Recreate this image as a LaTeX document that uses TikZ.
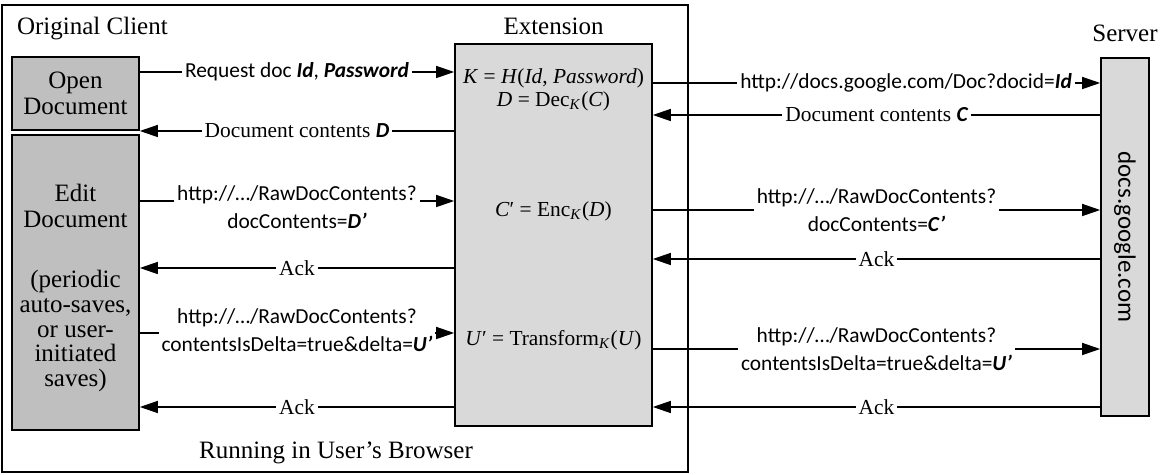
\documentclass[tikz,border=0pt]{standalone}
\usepackage{fontspec}
\setmainfont{Liberation Serif}
\setsansfont{Carlito}
\usetikzlibrary{arrows.meta,positioning}
\definecolor{boxDark}{RGB}{191,191,191}
\definecolor{boxLight}{RGB}{217,217,217}
\newcommand{\BoldVar}[1]{{\sffamily\bfseries\itshape #1}}

\begin{document}
\begin{tikzpicture}[x=0.5pt,y=-0.5pt,
    blk/.style={draw,line width=0.8pt,inner sep=0pt},
    msg/.style={line width=0.7pt,-{Triangle[length=9pt,width=6pt]}},
    lab/.style={fill=white,inner xsep=1.5pt,inner ysep=0.5pt,align=center},
    rm/.style={font=\fontsize{10.7}{14}\selectfont},
    sf/.style={font=\sffamily\fontsize{10.7}{14}\selectfont},
    big/.style={font=\fontsize{12.5}{13}\selectfont},
    eq/.style={font=\fontsize{10.7}{11.5}\selectfont,align=center}]
  \useasboundingbox (0,0) rectangle (1164,475);
  % browser frame
  \draw[line width=0.8pt] (2,5) rectangle (688,472);
  \node[big,anchor=base west] (client) at (10,35) {Original Client};
  \node[big,anchor=base] (browser) at (336,459) {Running in User’s Browser};

  % client side
  \node[blk,fill=boxDark,minimum width=63.5pt,minimum height=36.5pt,big,align=center] (open) at (75.5,93.5) {Open\\Document};
  \node[blk,fill=boxDark,minimum width=63.5pt,minimum height=147.5pt] (edit) at (75.5,282.5) {};
  \node[big,align=center] (edittitle) at (75.5,206) {Edit\\Document};
  \node[align=center,font=\fontsize{12.5}{12.3}\selectfont] (editnote) at (75.5,331)
    {(periodic\\auto-saves,\\or user-\\initiated\\saves)};

  % extension
  \node[blk,fill=boxLight,minimum width=98.5pt,minimum height=191pt] (ext) at (553.5,235) {};
  \node[big,anchor=base] (exttitle) at ([yshift=4.5pt]ext.north) {Extension};
  \node[eq] (keys) at (553.5,90)
    {\textit{K} = \textit{H}(\textit{Id}, \textit{Password})\\
     \textit{D} = Dec\textsubscript{\textit{K}}(\textit{C})};
  \node[eq] (enc) at (553.5,211) {\textit{C}′ = Enc\textsubscript{\textit{K}}(\textit{D})};
  \node[eq] (trans) at (553.5,340) {\textit{U}′ = Transform\textsubscript{\textit{K}}(\textit{U})};

  % server
  \node[blk,fill=boxLight,minimum width=24pt,minimum height=179pt] (server) at (1125,237) {};
  \node[big,anchor=base] (servtitle) at ([yshift=8pt]server.north) {Server};
  \node[rotate=-90,font=\sffamily\fontsize{12.5}{13}\selectfont] (host) at (server.center) {docs.google.com};

  % opening
  \draw[msg] (open.east |- 0,72) -- node[lab,sf]{Request doc \BoldVar{Id}, \BoldVar{Password}} (ext.west |- 0,72);
  \draw[msg] (ext.east |- 0,83) -- node[lab,sf,pos=0.566]{http://docs.google.com/Doc?docid=\BoldVar{Id}} (server.west |- 0,83);
  \draw[msg] (server.west |- 0,115) -- node[lab,rm]{Document contents \BoldVar{C}} (ext.east |- 0,115);
  \draw[msg] (ext.west |- 0,131) -- node[lab,rm]{Document contents \BoldVar{D}} (open.east |- 0,131);

  % saving
  \draw[msg] (edit.east |- 0,201) -- node[lab,sf,yshift=-3pt]{http://…/RawDocContents?\\docContents=\BoldVar{D’}} (ext.west |- 0,201);
  \draw[msg] (ext.east |- 0,210) -- node[lab,sf]{http://…/RawDocContents?\\docContents=\BoldVar{C’}} (server.west |- 0,210);
  \draw[msg] (edit.east |- 0,333) -- node[lab,sf,yshift=1.5pt]{http://…/RawDocContents?\\contentsIsDelta=true\&delta=\BoldVar{U’}} (ext.west |- 0,333);
  \draw[msg] (ext.east |- 0,349) -- node[lab,sf]{http://…/RawDocContents?\\contentsIsDelta=true\&delta=\BoldVar{U’}} (server.west |- 0,349);

  % acks
  \foreach \y in {259,407}
    \draw[msg] (server.west |- 0,\y) -- node[lab,rm]{Ack} (ext.east |- 0,\y);
  \foreach \y in {268,407}
    \draw[msg] (ext.west |- 0,\y) -- node[lab,rm]{Ack} (edit.east |- 0,\y);
\end{tikzpicture}
\end{document}
